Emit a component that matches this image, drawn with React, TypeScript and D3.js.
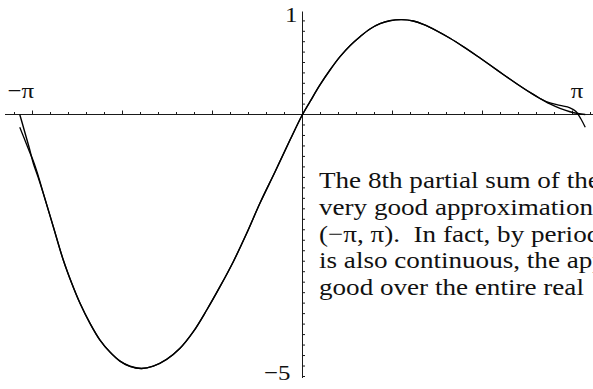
import React from "react";
import * as d3 from "d3";

// f(x) on [-π, π]
const fX = [
  -3.1416, -3.094, -3.039, -2.991, -2.939, -2.88, -2.769, -2.658, -2.564, -2.472,
  -2.361, -2.25, -2.139, -2.028, -1.917, -1.789, -1.658, -1.509, -1.361, -1.213,
  -1.064, -0.917, -0.769, -0.62, -0.472, -0.306, -0.139, 0, 0.083, 0.194,
  0.306, 0.417, 0.528, 0.639, 0.75, 0.861, 0.972, 1.102, 1.231, 1.342,
  1.491, 1.639, 1.787, 1.936, 2.083, 2.231, 2.38, 2.528, 2.639, 2.75,
  2.861, 2.972, 3.061, 3.1416,
];
const fY = [
  0, -0.286, -0.62, -0.931, -1.19, -1.504, -2.141, -2.777, -3.221, -3.603,
  -3.985, -4.305, -4.534, -4.706, -4.805, -4.847, -4.802, -4.672, -4.462, -4.145,
  -3.731, -3.286, -2.809, -2.267, -1.689, -1.097, -0.487, 0, 0.123, 0.284,
  0.428, 0.556, 0.662, 0.748, 0.822, 0.873, 0.902, 0.912, 0.899, 0.867,
  0.805, 0.733, 0.652, 0.565, 0.476, 0.385, 0.296, 0.212, 0.154, 0.101,
  0.058, 0.026, 0.009, 0,
];

// 8th partial sum: it departs from f only near the ends of the interval
const sLeftX = [-3.1416, -3.089, -3.039, -2.991, -2.939];
const sLeftY = [-0.244, -0.468, -0.687, -0.887, -1.155];
const sRightX = [2.75, 2.861, 2.972, 3.039, 3.094, 3.1416];
const sRightY = [0.111, 0.087, 0.064, 0.029, -0.086, -0.244];

const xTickLabels = [
  { value: -Math.PI, text: "−π" },
  { value: Math.PI, text: "π" },
];
const yTickLabels = [
  { value: 1, text: "1" },
  { value: -5, text: "−5" },
];

const noteLines = [
  "The 8th partial sum of the",
  "very good approximation",
  "(−π, π).  In fact, by period",
  "is also continuous, the approximation",
  "good over the entire real",
];

const W = 593;
const H = 389;
const serif = "Liberation Serif";
const stretch = 1.13;

export default function App() {
  const x = d3.scaleLinear().domain([0, 1]).range([302.5, 392.5]);
  const y = d3.scaleLinear().domain([-5, 0, 1]).range([376.5, 114.5, 10.5]);

  const fPts: [number, number][] = fX.map((v, i) => [v, fY[i]]);
  const leftCut = fX.indexOf(-2.88);
  const rightCut = fX.indexOf(2.639);
  const sPts: [number, number][] = [
    ...sLeftX.map((v, i) => [v, sLeftY[i]] as [number, number]),
    ...fPts.slice(leftCut, rightCut + 1),
    ...sRightX.map((v, i) => [v, sRightY[i]] as [number, number]),
  ];

  const line = d3
    .line<[number, number]>()
    .x((d) => x(d[0]))
    .y((d) => y(d[1]))
    .curve(d3.curveCatmullRom.alpha(0.5));

  const x0 = x(0);
  const y0 = y(0);

  const xMinor = d3.range(-16, 17).filter((i) => i !== 0).map((i) => i * 0.2);
  const yUpper = d3.range(1, 10).map((i) => i / 10);
  const yLower = d3.range(1, 26).map((i) => -i * 0.2);

  return (
    <svg
      width={W}
      height={H}
      style={{ position: "absolute", left: 0, top: 0, background: "#fff" }}
    >
      <rect width={W} height={H} fill="#fff" />
      {/* axes */}
      <g stroke="#1a1a1a" strokeWidth={1}>
        <line x1={5} x2={W} y1={y0} y2={y0} />
        <line x1={x0} x2={x0} y1={11.5} y2={378} />
        {xMinor.map((v) => {
          const major = Math.abs(v - Math.round(v)) < 1e-6;
          return (
            <line
              key={"xt" + v}
              x1={x(v)}
              x2={x(v)}
              y1={y0}
              y2={y0 - (major ? 4 : 2.5)}
            />
          );
        })}
        {[...yUpper, ...yLower].map((v) => (
          <line key={"yt" + v} x1={x0} x2={x0 + 2.5} y1={y(v)} y2={y(v)} />
        ))}
      </g>

      {/* curves */}
      <path d={line(fPts) ?? ""} fill="none" stroke="#000" strokeWidth={1.4} />
      <path d={line(sPts) ?? ""} fill="none" stroke="#000" strokeWidth={1.3} />

      {/* tick labels */}
      <g fontFamily={serif} fontSize={22} fill="#111">
        {xTickLabels.map((t) => {
          const px = t.value < 0 ? x(t.value) + 1 : x(t.value) - 2;
          return (
            <text
              key={t.text}
              transform={`translate(${px},${y0 - 17}) scale(${stretch},1)`}
              textAnchor={t.value < 0 ? "middle" : "end"}
            >
              {t.text}
            </text>
          );
        })}
        {yTickLabels.map((t) => {
          const px = t.value > 0 ? x0 - 5 : x0 - 12;
          const py = t.value > 0 ? y(t.value) + 11.5 : y(t.value) + 3.5;
          return (
            <text
              key={t.text}
              transform={`translate(${px},${py}) scale(${stretch},1)`}
              textAnchor="end"
            >
              {t.text}
            </text>
          );
        })}
      </g>

      {/* note */}
      <g fontFamily={serif} fontSize={24} fill="#111">
        {noteLines.map((s, i) => (
          <text
            key={i}
            transform={`translate(319,${188.3 + i * 26.7}) scale(${stretch},1)`}
            style={{ whiteSpace: "pre" }}
          >
            {s}
          </text>
        ))}
      </g>
    </svg>
  );
}
